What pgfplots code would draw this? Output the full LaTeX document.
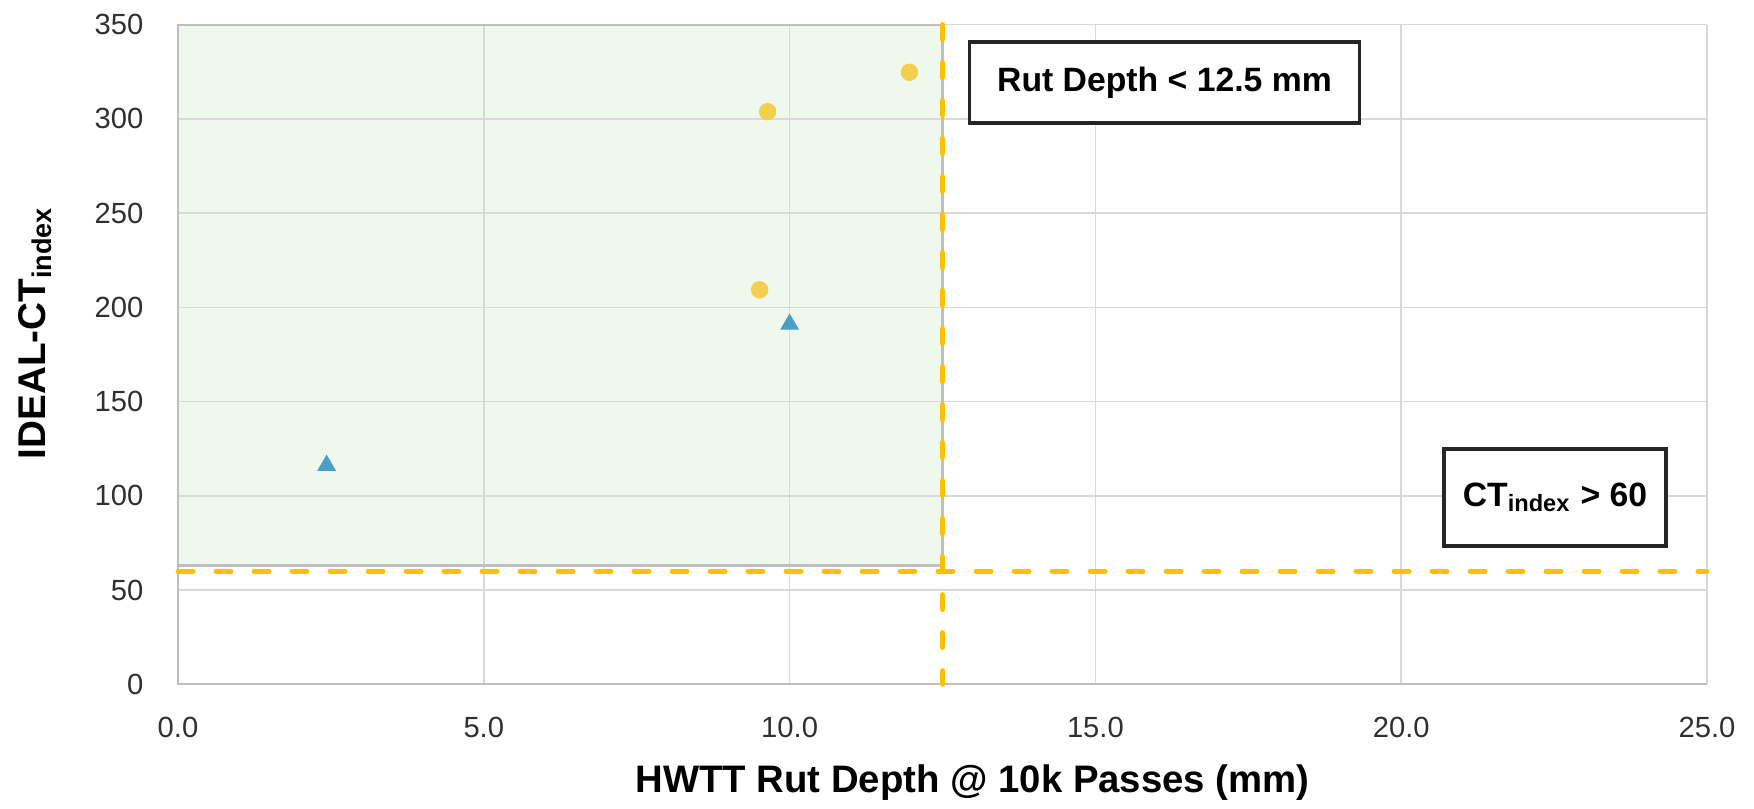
\documentclass[border=0pt]{standalone}
\usepackage{fontspec}
\setmainfont{Liberation Sans}
\usepackage{pgfplots}
\pgfplotsset{compat=1.18}
\definecolor{gridc}{HTML}{D9D9D9}
\definecolor{axc}{HTML}{BFBFBF}
\definecolor{greenf}{HTML}{EFF8EC}
\definecolor{orangec}{HTML}{FFC000}
\definecolor{yellowc}{HTML}{F2D04E}
\definecolor{bluec}{HTML}{4A9FC8}
\definecolor{tickc}{HTML}{303030}
\definecolor{boxc}{HTML}{262626}
\begin{document}
\begin{tikzpicture}
\begin{axis}[
  at={(0,0)}, anchor=south west,
  scale only axis, width=152.9mm, height=65.97mm,
  set layers,
  clip=false,
  xmin=0, xmax=25, ymin=0, ymax=350,
  xtick={0,5,...,25}, ytick={0,50,...,350},
  major tick length=0pt,
  grid=major, grid style={gridc, line width=0.45pt},
  axis line style={draw=none},
  /pgf/number format/assume math mode=true,
  tick label style={font=\fontsize{8.3}{10}\selectfont, text=tickc},
  xticklabel style={anchor=north, inner sep=0pt, yshift=-3.2mm,
    /pgf/number format/.cd, fixed, fixed zerofill, precision=1},
  yticklabel style={anchor=east, inner sep=0pt, xshift=-3.4mm},
  xlabel={\bfseries HWTT Rut Depth @ 10k Passes (mm)},
  ylabel={\bfseries IDEAL-CT\textsubscript{index}},
  every axis x label/.style={at={(axis description cs:0.5196,-0.1636)}, anchor=base,
    font=\fontsize{10.9}{13}\selectfont},
  every axis y label/.style={at={(axis description cs:-0.0936,0.533)}, anchor=center, rotate=90,
    font=\fontsize{11}{13}\selectfont},
]
% green acceptance region
\addplot[on layer=axis background, draw=none, fill=greenf] coordinates {(0,63) (12.5,63) (12.5,350) (0,350) (0,63)};
\addplot[draw=axc, line width=0.6pt] coordinates {(0,63) (12.5,63) (12.5,350) (0,350) (0,63)};
% axis lines
\addplot[draw=axc, line width=0.6pt] coordinates {(0,350) (0,0) (25,0)};
% thresholds
\addplot[orangec, line width=1.4pt, line cap=round, dash pattern=on 1.5mm off 2.3mm] coordinates {(0,60) (25,60)};
\addplot[orangec, line width=1.4pt, line cap=round, dash pattern=on 1.5mm off 2.3mm] coordinates {(12.5,350) (12.5,0)};
% data
\addplot[only marks, mark=*, mark size=0.8mm, mark options={draw=yellowc, fill=yellowc}] coordinates {
(11.96,324.7) (9.64,303.8) (9.51,209.3)};
\addplot[only marks, mark=triangle*, mark size=0.95mm, mark options={draw=bluec, fill=bluec}] coordinates {
(10.0,191) (2.43,116.1)};
% annotation boxes
\node[draw=boxc, line width=1pt, fill=white, minimum width=39mm, minimum height=8.1mm, inner sep=0pt,
  font=\fontsize{9.6}{11}\selectfont\bfseries] at (axis cs:16.13,319.15) {Rut Depth < 12.5 mm};
\node[draw=boxc, line width=1pt, fill=white, minimum width=22.2mm, minimum height=9.7mm, inner sep=0pt,
  font=\fontsize{9.6}{11}\selectfont\bfseries] at (axis cs:22.515,99.2) {CT\textsubscript{index} > 60};
\end{axis}
\pgfresetboundingbox
\path[use as bounding box] (-17.8mm,-12.47mm) rectangle (157.6mm,68.43mm);
\end{tikzpicture}
\end{document}
